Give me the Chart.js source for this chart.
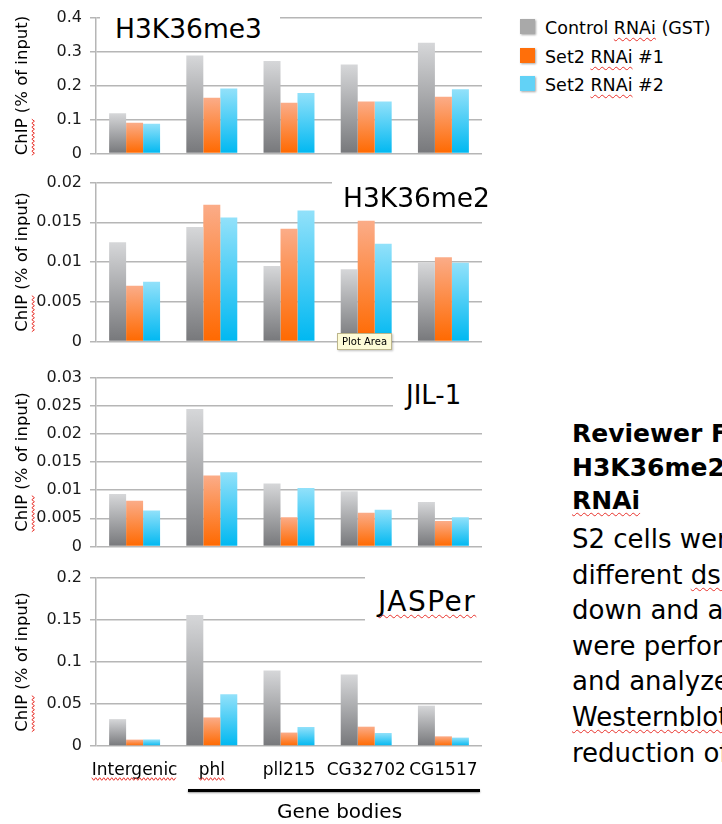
<!DOCTYPE html>
<html>
<head>
<meta charset="utf-8">
<script src="https://cdn.jsdelivr.net/npm/chart.js@4.4.1/dist/chart.umd.min.js"></script>
<style>
  html, body { margin: 0; padding: 0; background: #fff; }
  body {
    width: 722px; height: 824px; position: relative; overflow: hidden;
    font-family: 'DejaVu Sans', sans-serif; color: #000;
  }
  .panel { position: absolute; left: 0; width: 500px; }
  .mask { position: absolute; background: #fff; z-index: 2; }
  .ptitle { position: absolute; line-height: 1; white-space: nowrap; z-index: 3; }
  .spell { text-decoration: underline wavy #e8322b; text-decoration-skip-ink: none; text-underline-offset: 3px; text-decoration-thickness: 1px; }
  #legend .row { position: absolute; left: 520px; }
  #legend .sw { position: absolute; left: 0; width: 15px; height: 15px; box-shadow: 1px 1px 2px rgba(0,0,0,0.35); }
  #legend .tx { position: absolute; left: 25px; font-size: 17.5px; line-height: 1; white-space: nowrap; }
  .para { position: absolute; left: 572px; white-space: nowrap; }
  .para.bold { font-weight: bold; font-size: 25px; line-height: 33.5px; top: 417px; }
  .para.body { font-size: 26px; line-height: 35.6px; top: 522px; }
  #genebar { position: absolute; left: 188px; top: 789px; width: 292px; height: 3px; background: #000; box-shadow: 0 1px 2px rgba(0,0,0,0.4); }
  #genetext { position: absolute; left: 277px; top: 801px; font-size: 20px; line-height: 1; white-space: nowrap; }
  #plotarea {
    position: absolute; left: 337px; top: 333px; width: 53px; height: 15px; z-index: 4;
    background: #fdfbd6; border: 1px solid #bdb68c; font-size: 10px; line-height: 15px;
    text-align: center; box-shadow: 1px 1px 2px rgba(0,0,0,0.25);
  }
</style>
</head>
<body>

<div class="panel" style="top:0;height:171px"><canvas id="c1"></canvas></div>
<div class="panel" style="top:165px;height:194px"><canvas id="c2"></canvas></div>
<div class="panel" style="top:360px;height:204px"><canvas id="c3"></canvas></div>
<div class="panel" style="top:560px;height:264px"><canvas id="c4"></canvas></div>

<div class="mask" style="left:100px;top:8px;width:180px;height:36px"></div>
<div class="ptitle" style="left:115px;top:16px;font-size:26.5px">H3K36me3</div>

<div class="mask" style="left:332px;top:172px;width:168px;height:40px"></div>
<div class="ptitle" style="left:343px;top:185px;font-size:26.5px">H3K36me2</div>

<div class="mask" style="left:393px;top:368px;width:100px;height:42px"></div>
<div class="ptitle" style="left:406px;top:382px;font-size:26px">JIL-1</div>

<div class="mask" style="left:365px;top:570px;width:130px;height:57px"></div>
<div class="ptitle" style="left:378px;top:588px;font-size:28px;letter-spacing:1.5px"><span class="spell">JASPer</span></div>

<div id="plotarea">Plot Area</div>

<div id="legend"></div>

<div class="para bold">Reviewer Figure<br>H3K36me2<br><span class="spell">RNAi</span></div>
<div class="para body">S2 cells were<br>different <span class="spell">dsRNAs</span><br>down and after<br>were performed<br>and analyzed<br><span class="spell">Westernblot</span><br>reduction of</div>

<div id="genebar"></div>
<div id="genetext">Gene bodies</div>

<script>
// categories and series
const categories = ['Intergenic', 'phl', 'pll215', 'CG32702', 'CG1517'];
const seriesNames = ['Control RNAi (GST)', 'Set2 RNAi #1', 'Set2 RNAi #2'];

// H3K36me3
const me3Control = [0.118, 0.288, 0.272, 0.262, 0.326];
const me3Set2a   = [0.090, 0.164, 0.149, 0.153, 0.167];
const me3Set2b   = [0.087, 0.191, 0.178, 0.153, 0.189];
const me3Ticks   = ['0', '0.1', '0.2', '0.3', '0.4'];

// H3K36me2
const me2Control = [0.0125, 0.0144, 0.0095, 0.0091, 0.0099];
const me2Set2a   = [0.0070, 0.0172, 0.0142, 0.0152, 0.0106];
const me2Set2b   = [0.0075, 0.0156, 0.0165, 0.0123, 0.0099];
const me2Ticks   = ['0', '0.005', '0.01', '0.015', '0.02'];

// JIL-1
const jilControl = [0.0093, 0.0244, 0.0112, 0.0098, 0.0079];
const jilSet2a   = [0.0081, 0.0126, 0.0052, 0.0060, 0.0045];
const jilSet2b   = [0.0064, 0.0132, 0.0104, 0.0065, 0.0052];
const jilTicks   = ['0', '0.005', '0.01', '0.015', '0.02', '0.025', '0.03'];

// JASPer
const jasControl = [0.032, 0.156, 0.090, 0.085, 0.048];
const jasSet2a   = [0.0076, 0.034, 0.016, 0.023, 0.0115];
const jasSet2b   = [0.0078, 0.0615, 0.0226, 0.0155, 0.0100];
const jasTicks   = ['0', '0.05', '0.1', '0.15', '0.2'];

// words the spell checker flagged
const flaggedLabels = ['Intergenic', 'phl'];

const gradients = [
  ['#d6d7d9', '#77787b'],
  ['#fbac88', '#ff6900'],
  ['#92e1fa', '#00b8f1']
];
const swatchColors = ['#a9a9a9', '#ff6f0a', '#62d2f6'];
const gridColor = '#b6b6b6';
const FONT = "'DejaVu Sans', sans-serif";
const X_PAD = 6;

Chart.defaults.font.family = FONT;
Chart.defaults.color = '#111';

function barFill(top, bottom) {
  return (ctx) => {
    if (ctx.type !== 'data' || !ctx.parsed) return bottom;
    const y = ctx.chart.scales.y;
    if (!y) return bottom;
    const yTop = y.getPixelForValue(ctx.parsed.y);
    const yBase = y.getPixelForValue(0);
    if (!isFinite(yTop) || !isFinite(yBase) || yBase - yTop < 1) return bottom;
    const g = ctx.chart.ctx.createLinearGradient(0, yTop, 0, yBase);
    g.addColorStop(0, top);
    g.addColorStop(1, bottom);
    return g;
  };
}

function zigzag(c, x0, y0, x1, y1) {
  const len = Math.hypot(x1 - x0, y1 - y0);
  const ux = (x1 - x0) / len, uy = (y1 - y0) / len;
  const nx = -uy, ny = ux;
  c.beginPath();
  let s = 0, k = 0;
  while (s <= len) {
    const a = (k % 2 === 0 ? -1.3 : 1.3);
    const px = x0 + ux * s + nx * a, py = y0 + uy * s + ny * a;
    if (k === 0) c.moveTo(px, py); else c.lineTo(px, py);
    s += 2; k++;
  }
  c.stroke();
}

const spellPlugin = {
  id: 'spell',
  afterDraw(chart) {
    const c = chart.ctx;
    c.save();
    c.strokeStyle = '#e8322b';
    c.lineWidth = 1;
    // "ChIP" in the y title
    const ys = chart.scales.y;
    const t = ys.options.title;
    const size = t.font.size;
    c.font = size + 'px ' + FONT;
    const full = c.measureText(t.text).width;
    const chip = c.measureText('ChIP').width;
    const titleX = ys.left + size * 1.2 / 2 + t.padding.top;
    const cy = (chart.chartArea.top + chart.chartArea.bottom) / 2;
    const xs = titleX + size * 0.62;
    zigzag(c, xs, cy + full / 2, xs, cy + full / 2 - chip);
    // flagged x labels
    const xsc = chart.scales.x;
    if (xsc.options.display) {
      const fs = xsc.options.ticks.font.size;
      c.font = fs + 'px ' + FONT;
      const yLine = xsc.top + X_PAD + 27;
      categories.forEach((lab, i) => {
        if (!flaggedLabels.includes(lab)) return;
        const px = xsc.getPixelForTick(i);
        const w = c.measureText(lab).width;
        zigzag(c, px - w / 2, yLine, px + w / 2, yLine);
      });
    }
    c.restore();
  }
};

function makeChart(id, series, ticks, pad, showX) {
  const tickValues = ticks.map(Number);
  return new Chart(document.getElementById(id), {
    type: 'bar',
    data: {
      labels: categories,
      datasets: series.map((d, i) => ({
        label: seriesNames[i],
        data: d,
        backgroundColor: barFill(gradients[i][0], gradients[i][1]),
        borderWidth: 0,
        barPercentage: 1,
        categoryPercentage: 0.66
      }))
    },
    options: {
      responsive: true,
      maintainAspectRatio: false,
      animation: false,
      layout: { padding: { top: pad[0], right: 18, bottom: pad[1], left: 0 } },
      plugins: { legend: { display: false }, tooltip: { enabled: false } },
      scales: {
        x: {
          display: showX,
          grid: { display: false },
          border: { display: false },
          ticks: { font: { size: 17 }, color: '#000', padding: X_PAD, autoSkip: false, maxRotation: 0 },
          afterFit: (s) => { if (showX) s.height = 40; }
        },
        y: {
          min: tickValues[0],
          max: tickValues[tickValues.length - 1],
          afterBuildTicks: (s) => { s.ticks = tickValues.map(v => ({ value: v })); },
          afterFit: (s) => { s.width = 96; },
          grid: { color: gridColor, lineWidth: 1.5, tickLength: 6, drawTicks: true },
          border: { display: true, color: gridColor, width: 1.5 },
          ticks: {
            font: { size: 16 }, color: '#1a1a1a', padding: 8, autoSkip: false,
            callback: (v, i) => ticks[i]
          },
          title: {
            display: true, text: 'ChIP (% of input)', color: '#000',
            font: { size: 16.5 }, padding: { top: 13, bottom: 0 }
          }
        }
      }
    },
    plugins: [spellPlugin]
  });
}

makeChart('c1', [me3Control, me3Set2a, me3Set2b], me3Ticks, [16, 11], false);
makeChart('c2', [me2Control, me2Set2a, me2Set2b], me2Ticks, [13, 11], false);
makeChart('c3', [jilControl, jilSet2a, jilSet2b], jilTicks, [16, 11], false);
makeChart('c4', [jasControl, jasSet2a, jasSet2b], jasTicks, [18, 38], true);

// legend
const legend = document.getElementById('legend');
seriesNames.forEach((name, i) => {
  const row = document.createElement('div');
  row.className = 'row';
  row.style.top = (19 + i * 28.5) + 'px';
  const sw = document.createElement('div');
  sw.className = 'sw';
  sw.style.background = swatchColors[i];
  const tx = document.createElement('div');
  tx.className = 'tx';
  tx.style.top = '1px';
  tx.innerHTML = name.replace('RNAi', '<span class="spell">RNAi</span>');
  row.appendChild(sw);
  row.appendChild(tx);
  legend.appendChild(row);
});
</script>
</body>
</html>
